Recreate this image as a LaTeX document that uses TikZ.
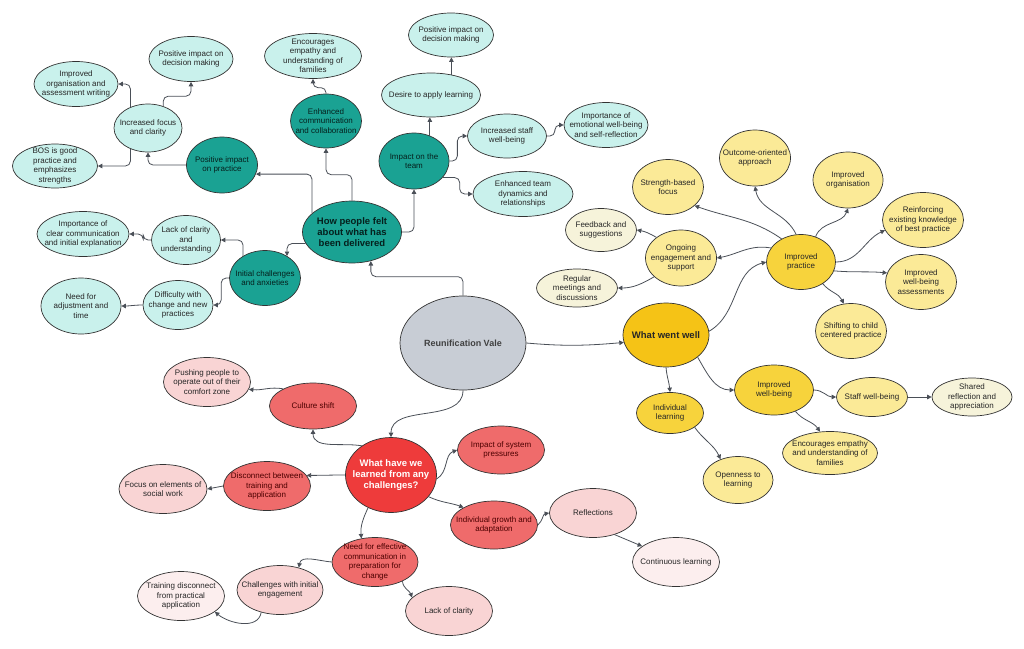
\documentclass[tikz,border=0pt]{standalone}
\usepackage{fontspec}
\setmainfont{Liberation Sans}
\usetikzlibrary{arrows.meta}
\usetikzlibrary{shapes.geometric}

\definecolor{tealdk}{HTML}{1AA293}
\definecolor{teallt}{HTML}{C9F1EC}
\definecolor{rootgr}{HTML}{C8CDD5}
\definecolor{golddk}{HTML}{F5C316}
\definecolor{goldmd}{HTML}{F7D33C}
\definecolor{goldlt}{HTML}{FBEA97}
\definecolor{creamlt}{HTML}{F6F3DA}
\definecolor{reddk}{HTML}{EE3B3B}
\definecolor{redmd}{HTML}{EF6B6B}
\definecolor{pinklt}{HTML}{F9D4D4}
\definecolor{pinkpl}{HTML}{FCEEEE}
\definecolor{linkc}{HTML}{4A4F57}
\definecolor{edgec}{HTML}{333333}

\tikzset{
  bub/.style={ellipse, draw=edgec, line width=0.7pt, inner sep=-40pt, align=center,
    font=\fontsize{8}{9.5}\selectfont, text=black!85},
  sz/.style 2 args={minimum width=#1pt, minimum height=#2pt},
  bigtxt/.style={font=\fontsize{9.5}{11}\selectfont\bfseries},
  tealhub/.style={bub, fill=tealdk, text=black!80!tealdk},
  tealleaf/.style={bub, fill=teallt},
  roothub/.style={bub, fill=rootgr, font=\fontsize{9}{11}\selectfont\bfseries, text=black!75},
  goldhub/.style={bub, fill=golddk},
  goldmid/.style={bub, fill=goldmd},
  goldleaf/.style={bub, fill=goldlt},
  creamleaf/.style={bub, fill=creamlt},
  redhub/.style={bub, fill=reddk, text=white},
  redmid/.style={bub, fill=redmd, text=black!70!red},
  pinkleaf/.style={bub, fill=pinklt},
  paleleaf/.style={bub, fill=pinkpl},
  link/.style={draw=linkc, line width=0.8pt},
  elbow/.style={link, rounded corners=5pt},
}

\begin{document}
\begin{tikzpicture}[x=1pt, y=-1pt, ->, >={Triangle[length=4.5pt,width=4.5pt]}]
	\useasboundingbox (0,0) rectangle (1024,648);

	% centre
	\node[roothub, sz={126}{94}] (Root) at (463,343) {Reunification Vale};

	% how people felt
	\node[tealhub, bigtxt, sz={99}{62}] (HPF) at (352,232) {How people felt\\about what has\\been delivered};
	\node[tealhub, sz={71}{56}] (PIP) at (222,165) {Positive impact\\on practice};
	\node[tealhub, sz={71}{54}] (ECC) at (326,121) {Enhanced\\communication\\and collaboration};
	\node[tealhub, sz={70}{56}] (IOT) at (414,161) {Impact on the\\team};
	\node[tealhub, sz={71}{55}] (ICA) at (265,278) {Initial challenges\\and anxieties};
	\node[tealleaf, sz={84}{45}] (PIDM1) at (191,59) {Positive impact on\\decision making};
	\node[tealleaf, sz={84}{45}] (IOW) at (76,84) {Improved\\organisation and\\assessment writing};
	\node[tealleaf, sz={68}{48}] (IFC) at (148,128) {Increased focus\\and clarity};
	\node[tealleaf, sz={85}{44}] (BOS) at (55,166) {BOS is good\\practice and\\emphasizes\\strengths};
	\node[tealleaf, sz={97}{45}] (EEF) at (313,56) {Encourages\\empathy and\\understanding of\\families};
	\node[tealleaf, sz={85}{44}] (PIDM2) at (451,35) {Positive impact on\\decision making};
	\node[tealleaf, sz={99}{44}] (DAL) at (431,95) {Desire to apply learning};
	\node[tealleaf, sz={79}{44}] (ISW) at (507,136) {Increased staff\\well-being};
	\node[tealleaf, sz={84}{45}] (IEW) at (606,125) {Importance of\\emotional well-being\\and self-reflection};
	\node[tealleaf, sz={100}{45}] (ETD) at (523,194) {Enhanced team\\dynamics and\\relationships};
	\node[tealleaf, sz={69}{49}] (LOC) at (186,240) {Lack of clarity\\and\\understanding};
	\node[tealleaf, sz={92}{45}] (ICC) at (83,234) {Importance of\\clear communication\\and initial explanation};
	\node[tealleaf, sz={70}{49}] (DWC) at (178,305) {Difficulty with\\change and new\\practices};
	\node[tealleaf, sz={80}{56}] (NFA) at (81,306) {Need for\\adjustment and\\time};

	% what went well
	\node[goldhub, bigtxt, sz={86}{64}] (WWW) at (666,335) {What went well};
	\node[goldmid, sz={69}{55}] (IP) at (801,262) {Improved\\practice};
	\node[goldmid, sz={67}{41}] (IL) at (670,413) {Individual\\learning};
	\node[goldmid, sz={79}{50}] (IWB) at (774,390) {Improved\\well-being};
	\node[goldleaf, sz={71}{56}] (OOA) at (755,158) {Outcome-oriented\\approach};
	\node[goldleaf, sz={71}{55}] (SBF) at (668,187) {Strength-based\\focus};
	\node[creamleaf, sz={71}{43}] (FAS) at (601,230) {Feedback and\\suggestions};
	\node[goldleaf, sz={71}{56}] (OES) at (681,258) {Ongoing\\engagement and\\support};
	\node[creamleaf, sz={81}{38}] (RMD) at (577,288) {Regular\\meetings and\\discussions};
	\node[goldleaf, sz={70}{56}] (IOR) at (848,180) {Improved\\organisation};
	\node[goldleaf, sz={81}{55}] (REK) at (923,220) {Reinforcing\\existing knowledge\\of best practice};
	\node[goldleaf, sz={71}{55}] (IWA) at (921,282) {Improved\\well-being\\assessments};
	\node[goldleaf, sz={71}{55}] (SCC) at (851,331) {Shifting to child\\centered practice};
	\node[goldleaf, sz={70}{47}] (OTL) at (738,480) {Openness to\\learning};
	\node[goldleaf, sz={71}{39}] (SWB) at (872,397) {Staff well-being};
	\node[creamleaf, sz={80}{38}] (SRA) at (972,397) {Shared\\reflection and\\appreciation};
	\node[goldleaf, sz={95}{43}] (EEU) at (830,453) {Encourages empathy\\and understanding of\\families};

	% what have we learned
	\node[redhub, bigtxt, sz={91}{75}] (WHL) at (391,475) {What have we\\learned from any\\challenges?};
	\node[redmid, sz={87}{46}] (CS) at (313,406) {Culture shift};
	\node[pinkleaf, sz={87}{49}] (PPO) at (207,382) {Pushing people to\\operate out of their\\comfort zone};
	\node[redmid, sz={87}{49}] (DBT) at (267,486) {Disconnect between\\training and\\application};
	\node[pinkleaf, sz={88}{49}] (FOE) at (163,489) {Focus on elements of\\social work};
	\node[redmid, sz={87}{48}] (ISP) at (501,450) {Impact of system\\pressures};
	\node[redmid, sz={87}{48}] (IGA) at (494,525) {Individual growth and\\adaptation};
	\node[pinkleaf, sz={87}{49}] (REF) at (593,513) {Reflections};
	\node[paleleaf, sz={87}{49}] (CL) at (676,562) {Continuous learning};
	\node[redmid, sz={86}{49}] (NFE) at (375,562) {Need for effective\\communication in\\preparation for\\change};
	\node[pinkleaf, sz={86}{49}] (CIE) at (280,590) {Challenges with initial\\engagement};
	\node[paleleaf, sz={87}{49}] (TDP) at (181,596) {Training disconnect\\from practical\\application};
	\node[pinkleaf, sz={87}{49}] (LOC2) at (449,611) {Lack of clarity};

	% teal branch
	\draw[elbow] (Root.north) -- ++(0,-19) -| (HPF.-57);
	\draw[elbow] (HPF.155) |- (PIP.-15);
	\draw[elbow] (HPF.north) -- ++(0,-26) -| (ECC.south);
	\draw[elbow] (HPF.east) -| (IOT.south);
	\draw[elbow] (HPF.194) -| (ICA.45);
	\draw[elbow] (PIP.west) -| (IFC.south);
	\draw[elbow] (IFC.130) |- (IOW.east);
	\draw[elbow] (IFC.55) -- ++(0,-10) -| (PIDM1.south);
	\draw[elbow] (IFC.-130) |- (BOS.east);
	\draw[elbow] (ECC.north) -- ++(0,-6) -| (EEF.south);
	\draw[link] (IOT.58) -- (IOT.58 |- DAL.south);
	\draw[link] (DAL.45) -- (DAL.45 |- PIDM2.south);
	\draw[elbow] (IOT.east) -- ++(8,0) |- (ISW.west);
	\draw[elbow] (IOT.-30) -- ++(17,0) |- (ETD.west);
	\draw[elbow] (ISW.east) -- ++(8,0) |- (IEW.west);
	\draw[elbow] (ICA.135) |- (LOC.east);
	\draw[elbow] (ICA.west) -- ++(-8,0) |- (DWC.east);
	\draw[elbow] (LOC.west) -- ++(-8,0) |- (ICC.east);
	\draw[link] (DWC.west) to[out=180, in=0] (NFA.east);

	% gold branch
	\draw[link] (Root.east) to[out=-5, in=185] (WWW.190);
	\draw[link] (WWW.5) to[out=30, in=195] (IP.west);
	\draw[link] (WWW.-90) to[out=-85, in=95] (IL.north);
	\draw[link] (WWW.-35) to[out=-60, in=180] (IWB.west);
	\draw[link] (IL.-30) to[out=-55, in=115] (OTL.130);
	\draw[link] (IWB.east) to[out=0, in=180] (SWB.west);
	\draw[link] (SWB.east) -- (SRA.west);
	\draw[link] (IWB.-45) to[out=-50, in=125] (EEU.115);
	\draw[link] (IP.155) to[out=170, in=10] (OES.east);
	\draw[link] (IP.130) to[out=145, in=-20] (SBF.-35);
	\draw[link] (IP.100) to[out=115, in=-80] (OOA.south);
	\draw[link] (IP.60) to[out=70, in=-110] (IOR.south);
	\draw[link] (IP.east) to[out=0, in=205] (REK.195);
	\draw[link] (IP.-15) to[out=-5, in=175] (IWA.165);
	\draw[link] (IP.-45) to[out=-50, in=115] (SCC.105);
	\draw[link] (OES.140) to[out=150, in=-10] (FAS.east);
	\draw[link] (OES.-145) to[out=-150, in=0] (RMD.east);

	% red branch
	\draw[link] (Root.south) to[out=-90, in=90] (WHL.north);
	\draw[link] (WHL.135) to[out=170, in=-90] (CS.south);
	\draw[link] (CS.150) to[out=170, in=-5] (PPO.-10);
	\draw[link] (WHL.west) to[out=180, in=0] (DBT.15);
	\draw[link] (DBT.west) -- (FOE.east);
	\draw[link] (WHL.-5) to[out=30, in=200] (ISP.west);
	\draw[link] (WHL.-30) to[out=-25, in=160] (IGA.150);
	\draw[link] (IGA.east) to[out=40, in=190] (REF.west);
	\draw[link] (REF.-45) -- (CL.155);
	\draw[link] (WHL.-125) to[out=-115, in=95] (NFE.120);
	\draw[link] (NFE.west) to[out=175, in=80] (CIE.50);
	\draw[link] (NFE.-35) to[out=-85, in=110] (LOC2.160);
	\draw[link] (CIE.-130) to[out=-100, in=-40] (TDP.-25);
\end{tikzpicture}
\end{document}
